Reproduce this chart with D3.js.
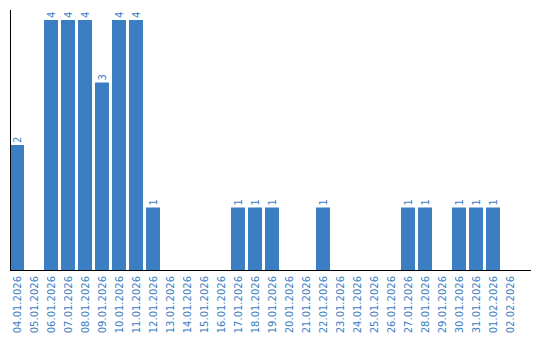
<!DOCTYPE html>
<html>
<head>
<meta charset="utf-8">
<script src="https://cdn.jsdelivr.net/npm/d3@7"></script>
<style>
body { margin: 0; background: #fff; }
svg { display: block; }
</style>
</head>
<body>
<script>
var dates = ['04.01.2026', '05.01.2026', '06.01.2026', '07.01.2026', '08.01.2026', '09.01.2026',
	'10.01.2026', '11.01.2026', '12.01.2026', '13.01.2026', '14.01.2026', '15.01.2026',
	'16.01.2026', '17.01.2026', '18.01.2026', '19.01.2026', '20.01.2026', '21.01.2026',
	'22.01.2026', '23.01.2026', '24.01.2026', '25.01.2026', '26.01.2026', '27.01.2026',
	'28.01.2026', '29.01.2026', '30.01.2026', '31.01.2026', '01.02.2026', '02.02.2026'];
var counts = [2, 0, 4, 4, 4, 3, 4, 4, 1, 0, 0, 0, 0, 1, 1, 1, 0, 0, 1, 0, 0, 0, 0, 1, 1, 0, 1, 1, 1, 0];

var width = 540, height = 340;
var plotLeft = 10, plotTop = 10, base = 270, step = 17, gap = 3;
var blue = '#3b7ec3';

var svg = d3.select('body').append('svg')
	.attr('width', width)
	.attr('height', height);

// bandas de 17px (14 barra + 3 hueco) empezando en el eje
var x = d3.scaleBand()
	.domain(dates)
	.range([plotLeft, plotLeft + step * dates.length - gap])
	.paddingInner(gap / step)
	.paddingOuter(0);

var y = d3.scaleLinear()
	.domain([0, 4.16])
	.range([base, plotTop]);

var data = dates.map(function(d, i) { return { date: d, n: counts[i] }; });
var nonZero = data.filter(function(d) { return d.n > 0; });

svg.selectAll('.bar')
	.data(nonZero)
	.enter().append('rect')
	.attr('class', 'bar')
	.attr('x', function(d) { return x(d.date); })
	.attr('y', function(d) { return y(d.n); })
	.attr('width', x.bandwidth())
	.attr('height', function(d) { return base - y(d.n); })
	.attr('fill', blue);

// etiquetas de valor
svg.selectAll('.val')
	.data(nonZero)
	.enter().append('text')
	.attr('class', 'val')
	.attr('transform', function(d) {
		return 'translate(' + (x(d.date) + x.bandwidth() / 2) + ',' + (y(d.n) - 2) + ') rotate(-90)';
	})
	.attr('dy', '.35em')
	.style('font-family', 'DejaVu Sans, sans-serif')
	.style('font-size', '10px')
	.attr('fill', blue)
	.text(function(d) { return d.n; });

// eje x
var xAxis = svg.append('g')
	.attr('transform', 'translate(0,' + base + ')')
	.call(d3.axisBottom(x).tickSize(0).tickPadding(0));
xAxis.select('.domain').remove();
xAxis.selectAll('text')
	.attr('transform', 'translate(0,6) rotate(-90)')
	.attr('x', 0)
	.attr('y', 0)
	.attr('dy', '.35em')
	.style('text-anchor', 'end')
	.style('font-family', 'DejaVu Sans, sans-serif')
	.style('font-size', '10px')
	.attr('fill', blue);

svg.append('line')
	.attr('x1', plotLeft).attr('x2', 531)
	.attr('y1', base + 0.5).attr('y2', base + 0.5)
	.attr('stroke', '#000');

svg.append('line')
	.attr('x1', plotLeft + 0.5).attr('x2', plotLeft + 0.5)
	.attr('y1', plotTop).attr('y2', base)
	.attr('stroke', '#000');
</script>
</body>
</html>
